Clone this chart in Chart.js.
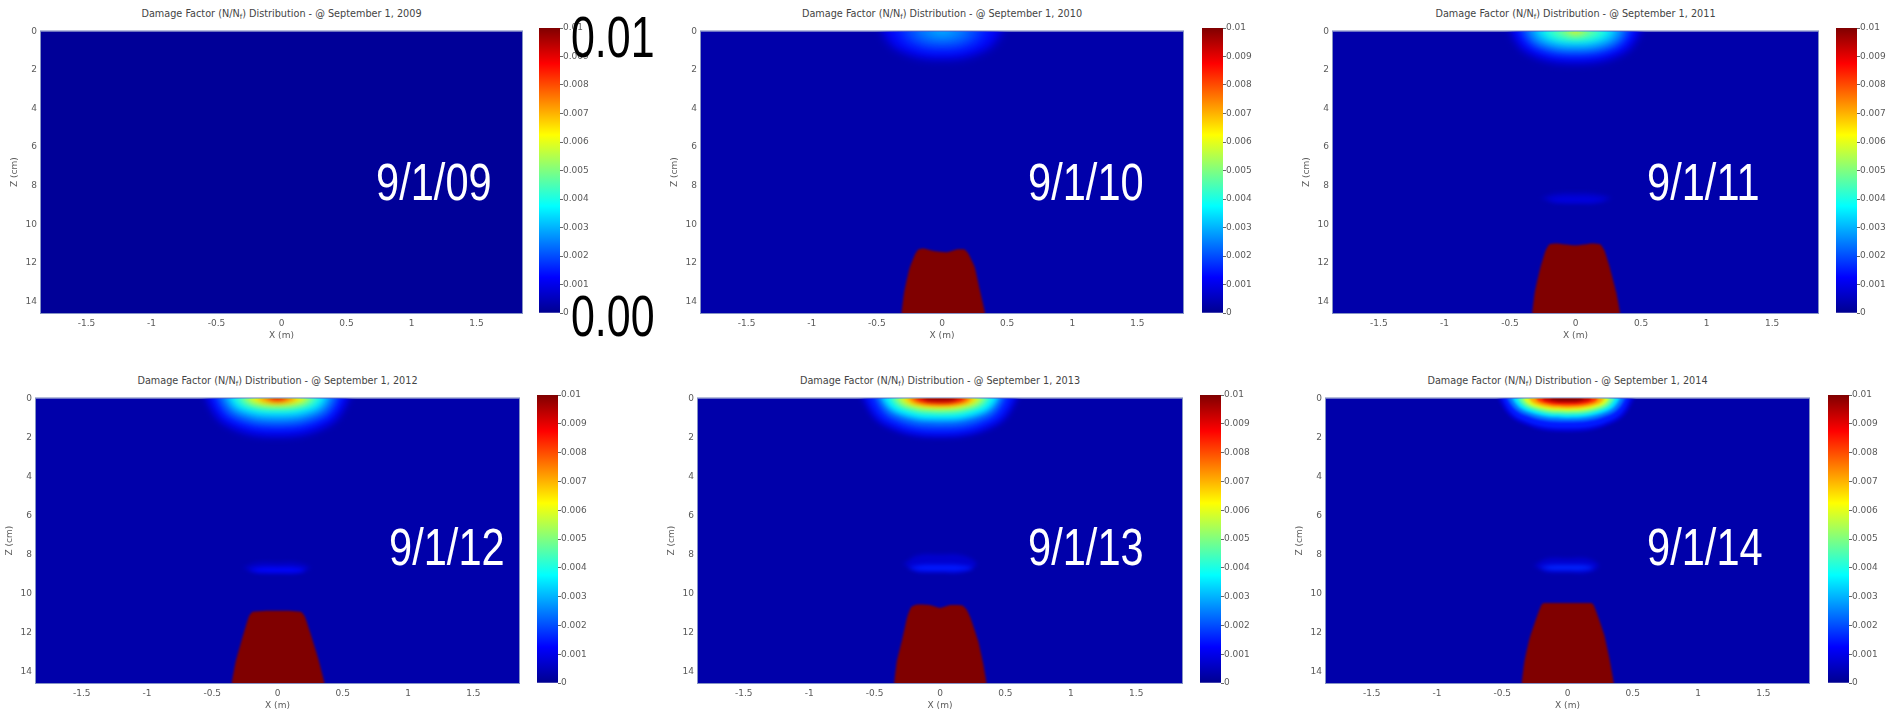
<!DOCTYPE html>
<html>
<head>
<meta charset="utf-8">
<script src="https://cdn.jsdelivr.net/npm/chart.js@4.4.1/dist/chart.umd.min.js"></script>
<style>
    html, body { margin: 0; padding: 0; background: #fff; }
    #stage { position: relative; width: 1892px; height: 713px; overflow: hidden; }
    #stage canvas { position: absolute; }
    .title { position: absolute; font: 9.7px "DejaVu Sans", sans-serif; color: #444; white-space: nowrap; transform: translate(-50%, -50%); }
    .title sub { font-size: 7px; line-height: 0; vertical-align: -2px; }
    .date { position: absolute; font-family: "Liberation Sans", Arial, sans-serif; font-size: 52px; line-height: 1; color: #fff; white-space: nowrap; transform-origin: 0 0; transform: scaleX(0.8); }
    .big { position: absolute; font-family: "Liberation Sans", Arial, sans-serif; font-size: 58px; line-height: 1; color: #000; white-space: nowrap; transform-origin: 0 0; transform: scaleX(0.74); }
</style>
</head>
<body>
<div id="stage"></div>
<script>
const years = ['2009', '2010', '2011', '2012', '2013', '2014'];
const dateLabels = ['9/1/09', '9/1/10', '9/1/11', '9/1/12', '9/1/13', '9/1/14'];

const xRange = [-1.85, 1.85];
const zRange = [0, 14.6];
const cbRange = [0, 0.01];
const xTickValues = [-1.5, -1, -0.5, 0, 0.5, 1, 1.5];
const xTickLabels = ['-1.5', '-1', '-0.5', '0', '0.5', '1', '1.5'];
const zTickValues = [0, 2, 4, 6, 8, 10, 12, 14];
const zTickLabels = ['0', '2', '4', '6', '8', '10', '12', '14'];
const cbTickValues = [0, 0.001, 0.002, 0.003, 0.004, 0.005, 0.006, 0.007, 0.008, 0.009, 0.01];
const cbTickLabels = ['0', '0.001', '0.002', '0.003', '0.004', '0.005', '0.006', '0.007', '0.008', '0.009', '0.01'];

// background damage level of each panel
const baseLevel = [0.0001, 0.0003, 0.0003, 0.0003, 0.0003, 0.0003];

// surface hot spot: outline (x m, z cm) of each damage level
const glow2010 = [
    { v: 0.0011, pts: [[-0.46, 0], [-0.33, 1.0], [0, 1.45], [0.33, 1.0], [0.46, 0]] },
    { v: 0.0015, pts: [[-0.38, 0], [-0.27, 0.8], [0, 1.15], [0.27, 0.8], [0.38, 0]] },
    { v: 0.002, pts: [[-0.29, 0], [-0.21, 0.59], [0, 0.85], [0.21, 0.59], [0.29, 0]] },
    { v: 0.0025, pts: [[-0.19, 0], [-0.14, 0.35], [0, 0.5], [0.14, 0.35], [0.19, 0]] },
    { v: 0.0029, pts: [[-0.08, 0], [-0.06, 0.12], [0, 0.18], [0.06, 0.12], [0.08, 0]] }
];
const glow2011 = [
    { v: 0.0008, pts: [[-0.5, 0], [-0.36, 1.2], [0, 1.7], [0.36, 1.2], [0.5, 0]] },
    { v: 0.0013, pts: [[-0.47, 0], [-0.34, 1.05], [0, 1.5], [0.34, 1.05], [0.47, 0]] },
    { v: 0.0019, pts: [[-0.42, 0], [-0.3, 0.87], [0, 1.25], [0.3, 0.87], [0.42, 0]] },
    { v: 0.0026, pts: [[-0.37, 0], [-0.27, 0.7], [0, 1.0], [0.27, 0.7], [0.37, 0]] },
    { v: 0.0033, pts: [[-0.31, 0], [-0.22, 0.52], [0, 0.75], [0.22, 0.52], [0.31, 0]] },
    { v: 0.004, pts: [[-0.25, 0], [-0.18, 0.36], [0, 0.52], [0.18, 0.36], [0.25, 0]] },
    { v: 0.0046, pts: [[-0.18, 0], [-0.13, 0.23], [0, 0.33], [0.13, 0.23], [0.18, 0]] },
    { v: 0.0053, pts: [[-0.1, 0], [-0.07, 0.11], [0, 0.16], [0.07, 0.11], [0.1, 0]] },
    { v: 0.0065, pts: [[-0.03, 0], [-0.02, 0.05], [0, 0.08], [0.02, 0.05], [0.03, 0]] }
];
const glow2012 = [
    { v: 0.0008, pts: [[-0.56, 0], [-0.4, 1.45], [0, 2.05], [0.4, 1.45], [0.56, 0]] },
    { v: 0.0014, pts: [[-0.52, 0], [-0.37, 1.26], [0, 1.8], [0.37, 1.26], [0.52, 0]] },
    { v: 0.002, pts: [[-0.47, 0], [-0.34, 1.05], [0, 1.5], [0.34, 1.05], [0.47, 0]] },
    { v: 0.0027, pts: [[-0.42, 0], [-0.3, 0.84], [0, 1.2], [0.3, 0.84], [0.42, 0]] },
    { v: 0.0035, pts: [[-0.37, 0], [-0.27, 0.63], [0, 0.9], [0.27, 0.63], [0.37, 0]] },
    { v: 0.0043, pts: [[-0.32, 0], [-0.23, 0.45], [0, 0.65], [0.23, 0.45], [0.32, 0]] },
    { v: 0.0053, pts: [[-0.26, 0], [-0.19, 0.31], [0, 0.45], [0.19, 0.31], [0.26, 0]] },
    { v: 0.0064, pts: [[-0.2, 0], [-0.14, 0.2], [0, 0.28], [0.14, 0.2], [0.2, 0]] },
    { v: 0.0076, pts: [[-0.13, 0], [-0.09, 0.11], [0, 0.16], [0.09, 0.11], [0.13, 0]] },
    { v: 0.009, pts: [[-0.06, 0], [-0.04, 0.05], [0, 0.07], [0.04, 0.05], [0.06, 0]] }
];
const glow2013 = [
    { v: 0.0008, pts: [[-0.6, 0], [-0.43, 1.45], [0, 2.05], [0.43, 1.45], [0.6, 0]] },
    { v: 0.0015, pts: [[-0.56, 0], [-0.4, 1.29], [0, 1.85], [0.4, 1.29], [0.56, 0]] },
    { v: 0.0021, pts: [[-0.5, 0], [-0.36, 1.08], [0, 1.55], [0.36, 1.08], [0.5, 0]] },
    { v: 0.0028, pts: [[-0.46, 0], [-0.33, 0.87], [0, 1.25], [0.33, 0.87], [0.46, 0]] },
    { v: 0.0036, pts: [[-0.43, 0], [-0.31, 0.73], [0, 1.05], [0.31, 0.73], [0.43, 0]] },
    { v: 0.0045, pts: [[-0.38, 0], [-0.27, 0.57], [0, 0.82], [0.27, 0.57], [0.38, 0]] },
    { v: 0.0055, pts: [[-0.33, 0], [-0.24, 0.43], [0, 0.62], [0.24, 0.43], [0.33, 0]] },
    { v: 0.0066, pts: [[-0.28, 0], [-0.2, 0.31], [0, 0.45], [0.2, 0.31], [0.28, 0]] },
    { v: 0.0078, pts: [[-0.23, 0], [-0.17, 0.22], [0, 0.32], [0.17, 0.22], [0.23, 0]] },
    { v: 0.009, pts: [[-0.18, 0], [-0.13, 0.15], [0, 0.22], [0.13, 0.15], [0.18, 0]] },
    { v: 0.0099, pts: [[-0.12, 0], [-0.09, 0.08], [0, 0.12], [0.09, 0.08], [0.12, 0]] }
];
const glow2014 = [
    { v: 0.0008, pts: [[-0.53, 0], [-0.38, 1.2], [0, 1.72], [0.37, 1.2], [0.51, 0]] },
    { v: 0.0015, pts: [[-0.5, 0], [-0.36, 1.08], [0, 1.55], [0.35, 1.08], [0.48, 0]] },
    { v: 0.0024, pts: [[-0.46, 0], [-0.33, 0.84], [0, 1.2], [0.32, 0.84], [0.44, 0]] },
    { v: 0.0035, pts: [[-0.42, 0], [-0.3, 0.7], [0, 1.0], [0.29, 0.7], [0.4, 0]] },
    { v: 0.0047, pts: [[-0.38, 0], [-0.27, 0.57], [0, 0.82], [0.26, 0.57], [0.36, 0]] },
    { v: 0.0059, pts: [[-0.34, 0], [-0.24, 0.46], [0, 0.66], [0.23, 0.46], [0.32, 0]] },
    { v: 0.0071, pts: [[-0.29, 0], [-0.21, 0.35], [0, 0.5], [0.2, 0.35], [0.28, 0]] },
    { v: 0.0083, pts: [[-0.24, 0], [-0.17, 0.25], [0, 0.36], [0.17, 0.25], [0.23, 0]] },
    { v: 0.0093, pts: [[-0.19, 0], [-0.14, 0.17], [0, 0.24], [0.13, 0.17], [0.18, 0]] },
    { v: 0.01, pts: [[-0.13, 0], [-0.09, 0.09], [0, 0.13], [0.09, 0.09], [0.12, 0]] }
];

// thin band near z = 8.7 cm
const band2011 = [
    { v: 0.0006, pts: [[-0.27, 8.65], [-0.16, 8.4], [0, 8.35], [0.16, 8.4], [0.27, 8.65], [0.16, 8.92], [0, 8.95], [-0.16, 8.92]] },
    { v: 0.0009, pts: [[-0.22, 8.72], [-0.13, 8.6], [0, 8.58], [0.13, 8.6], [0.22, 8.72], [0.13, 8.84], [0, 8.86], [-0.13, 8.84]] }
];
const band2012 = [
    { v: 0.0006, pts: [[-0.27, 8.7], [-0.16, 8.42], [0, 8.4], [0.16, 8.42], [0.25, 8.7], [0.16, 8.98], [0, 9.0], [-0.16, 8.98]] },
    { v: 0.0013, pts: [[-0.23, 8.8], [-0.13, 8.68], [0, 8.67], [0.13, 8.68], [0.21, 8.8], [0.13, 8.92], [0, 8.93], [-0.13, 8.92]] }
];
const band2013 = [
    { v: 0.0007, pts: [[-0.28, 8.5], [-0.17, 8.05], [0, 8.0], [0.17, 8.05], [0.28, 8.5], [0.17, 8.93], [0, 8.95], [-0.17, 8.93]] },
    { v: 0.0015, pts: [[-0.25, 8.7], [-0.15, 8.56], [0, 8.54], [0.15, 8.56], [0.25, 8.7], [0.15, 8.84], [0, 8.86], [-0.15, 8.84]] }
];
const band2014 = [
    { v: 0.0007, pts: [[-0.26, 8.58], [-0.16, 8.22], [0, 8.2], [0.16, 8.22], [0.24, 8.58], [0.16, 8.93], [0, 8.95], [-0.16, 8.93]] },
    { v: 0.0016, pts: [[-0.22, 8.68], [-0.13, 8.56], [0, 8.55], [0.13, 8.56], [0.2, 8.68], [0.13, 8.8], [0, 8.82], [-0.13, 8.8]] }
];

// saturated zone at the bottom (>= 0.01)
const core2010 = [[-0.32, 15.5], [-0.31, 14.6], [-0.29, 13.5], [-0.25, 12.3], [-0.21, 11.6], [-0.18, 11.3], [-0.14, 11.25], [-0.05, 11.4], [0.04, 11.45], [0.12, 11.3], [0.17, 11.3], [0.2, 11.5], [0.25, 12.2], [0.29, 13.4], [0.33, 14.6], [0.34, 15.5]];
const core2011 = [[-0.34, 15.5], [-0.33, 14.6], [-0.31, 13.5], [-0.27, 12.3], [-0.23, 11.4], [-0.2, 11.05], [-0.15, 11.0], [0, 11.1], [0.13, 11.0], [0.19, 11.05], [0.22, 11.35], [0.26, 12.2], [0.31, 13.5], [0.34, 14.6], [0.35, 15.5]];
const core2012 = [[-0.36, 15.5], [-0.35, 14.6], [-0.32, 13.5], [-0.27, 12.3], [-0.22, 11.2], [-0.19, 10.95], [-0.1, 10.9], [0.1, 10.9], [0.18, 10.95], [0.21, 11.2], [0.25, 12.0], [0.31, 13.3], [0.36, 14.6], [0.37, 15.5]];
const core2013 = [[-0.36, 15.5], [-0.35, 14.6], [-0.33, 13.5], [-0.29, 12.4], [-0.25, 11.2], [-0.22, 10.7], [-0.18, 10.58], [-0.08, 10.6], [0, 10.75], [0.08, 10.6], [0.17, 10.62], [0.2, 10.8], [0.23, 11.2], [0.29, 12.4], [0.33, 13.6], [0.355, 14.6], [0.36, 15.5]];
const core2014 = [[-0.36, 15.5], [-0.35, 14.6], [-0.33, 13.5], [-0.29, 12.3], [-0.24, 11.3], [-0.2, 10.6], [-0.18, 10.5], [0, 10.5], [0.18, 10.5], [0.2, 10.6], [0.24, 11.3], [0.28, 12.1], [0.32, 13.3], [0.355, 14.6], [0.36, 15.5]];
const coreLevel = 0.01;

const panelGlows = [[], glow2010, glow2011, glow2012, glow2013, glow2014];
const panelBands = [[], [], band2011, band2012, band2013, band2014];
const panelCores = [null, core2010, core2011, core2012, core2013, core2014];

// layout (page pixels)
const boxes = [
    { l: 41, r: 522, t: 28, b: 313, cbL: 539, cbR: 560 },
    { l: 701, r: 1183, t: 28, b: 313, cbL: 1202, cbR: 1223 },
    { l: 1333, r: 1818, t: 28, b: 313, cbL: 1836, cbR: 1857 },
    { l: 36, r: 519, t: 395, b: 683, cbL: 537, cbR: 558 },
    { l: 698, r: 1182, t: 395, b: 683, cbL: 1200, cbR: 1221 },
    { l: 1326, r: 1809, t: 395, b: 683, cbL: 1828, cbR: 1849 }
];
const dateBoxes = [[376, 156], [1028, 156], [1647, 156], [389, 521], [1028, 521], [1647, 521]];
const glowBlur = [0, 5, 4, 3, 2.5, 1.5];

const jetStops = [[0, [0, 0, 143]], [0.125, [0, 0, 255]], [0.375, [0, 255, 255]], [0.625, [255, 255, 0]], [0.875, [255, 0, 0]], [1, [128, 0, 0]]];
const tickFont = { family: 'DejaVu Sans', size: 9 };
const tickColor = '#5a5a5a';

function jet(v) {
    let t = (v - cbRange[0]) / (cbRange[1] - cbRange[0]);
    t = Math.min(1, Math.max(0, t));
    for (let i = 1; i < jetStops.length; i++) {
        const [p1, c1] = jetStops[i];
        const [p0, c0] = jetStops[i - 1];
        if (t <= p1) {
            const f = (t - p0) / (p1 - p0);
            const c = c0.map((a, k) => Math.round(a + (c1[k] - a) * f));
            return `rgb(${c[0]}, ${c[1]}, ${c[2]})`;
        }
    }
    return 'rgb(128, 0, 0)';
}

function toXY(pts) {
    return pts.map(([x, z]) => ({ x: x, y: z }));
}

function shapeDataset(pts, v, tension, blur) {
    return {
        data: toXY(pts),
        showLine: true,
        fill: 'shape',
        backgroundColor: jet(v),
        borderWidth: 0,
        pointRadius: 0,
        tension: tension,
        order: -v,
        blur: blur
    };
}

function buildDatasets(i) {
    const sets = [];
    panelGlows[i].forEach(c => {
        const first = c.pts[0], last = c.pts[c.pts.length - 1];
        const pts = [[first[0], -1], ...c.pts, [last[0], -1]];
        sets.push(shapeDataset(pts, c.v, 0.4, glowBlur[i]));
    });
    panelBands[i].forEach(c => sets.push(shapeDataset(c.pts, c.v, 0.4, 2)));
    if (panelCores[i]) sets.push(shapeDataset(panelCores[i], coreLevel, 0.15, 1));
    return sets;
}

function drawSequence(chart) {
    return chart.getSortedVisibleDatasetMetas().slice().reverse();
}

function setBlur(chart, meta) {
    const b = meta ? chart.data.datasets[meta.index].blur : 0;
    chart.ctx.filter = b ? `blur(${b}px)` : 'none';
}

const fieldPlugin = {
    id: 'field',
    beforeDatasetsDraw(chart, args, opts) {
        const { ctx, chartArea: a } = chart;
        ctx.save();
        ctx.fillStyle = opts.base;
        ctx.fillRect(a.left, a.top, a.width, a.height);
        ctx.restore();
        setBlur(chart, drawSequence(chart)[0]);
    },
    afterDatasetDraw(chart, args) {
        const seq = drawSequence(chart);
        const k = seq.findIndex(m => m.index === args.index);
        setBlur(chart, seq[k + 1]);
    },
    afterDatasetsDraw(chart, args, opts) {
        const { ctx, chartArea: a } = chart;
        ctx.filter = 'none';
        ctx.save();
        ctx.strokeStyle = opts.frame;
        ctx.lineWidth = 1;
        ctx.strokeRect(a.left - 0.5, a.top - 0.5, a.width + 1, a.height + 1);
        ctx.restore();
    }
};

function makeCanvas(left, top, w, h) {
    const cv = document.createElement('canvas');
    cv.width = w;
    cv.height = h;
    cv.style.left = left + 'px';
    cv.style.top = top + 'px';
    cv.style.width = w + 'px';
    cv.style.height = h + 'px';
    document.getElementById('stage').appendChild(cv);
    return cv;
}

function createField(i) {
    const bx = boxes[i];
    const yW = 36, xH = 30, padT = 6, padR = 6;
    const cv = makeCanvas(bx.l - yW, bx.t - padT, bx.r - bx.l + yW + padR, bx.b - bx.t + padT + xH);
    new Chart(cv, {
        type: 'line',
        data: { datasets: buildDatasets(i) },
        options: {
            responsive: false,
            animation: false,
            events: [],
            layout: { padding: { top: padT, right: padR, left: 0, bottom: 0 } },
            elements: { line: { capBezierPoints: false } },
            plugins: {
                legend: { display: false },
                tooltip: { enabled: false },
                field: { base: jet(baseLevel[i]), frame: 'rgba(120, 135, 190, 0.9)' }
            },
            scales: {
                x: {
                    type: 'linear',
                    min: xRange[0],
                    max: xRange[1],
                    afterBuildTicks: s => { s.ticks = xTickValues.map(v => ({ value: v })); },
                    afterFit: s => { s.height = xH; },
                    grid: { display: false, drawTicks: false },
                    border: { display: false },
                    ticks: { padding: 5, autoSkip: false, maxRotation: 0, font: tickFont, color: tickColor, callback: (v, k) => xTickLabels[k] },
                    title: { display: true, text: 'X (m)', font: tickFont, color: tickColor, padding: { top: 0, bottom: 2 } }
                },
                y: {
                    type: 'linear',
                    reverse: true,
                    min: zRange[0],
                    max: zRange[1],
                    afterBuildTicks: s => { s.ticks = zTickValues.map(v => ({ value: v })); },
                    afterFit: s => { s.width = yW; },
                    grid: { display: false, drawTicks: false },
                    border: { display: false },
                    ticks: { padding: 4, autoSkip: false, font: tickFont, color: tickColor, callback: (v, k) => zTickLabels[k] },
                    title: { display: true, text: 'Z (cm)', font: tickFont, color: tickColor, padding: { top: 4, bottom: 0 } }
                }
            }
        },
        plugins: [fieldPlugin]
    });
}

function createColorbar(i) {
    const bx = boxes[i];
    const axisW = 40, pad = 6;
    const cv = makeCanvas(bx.cbL, bx.t - pad, bx.cbR - bx.cbL + axisW, bx.b - bx.t + 2 * pad);
    new Chart(cv, {
        type: 'bar',
        data: {
            labels: [''],
            datasets: [{
                data: [cbRange],
                borderWidth: 0,
                barPercentage: 1,
                categoryPercentage: 1,
                backgroundColor: ctx => {
                    const area = ctx.chart.chartArea;
                    if (!area) return jet(0);
                    const g = ctx.chart.ctx.createLinearGradient(0, area.bottom, 0, area.top);
                    jetStops.forEach(([p, c]) => g.addColorStop(p, `rgb(${c[0]}, ${c[1]}, ${c[2]})`));
                    return g;
                }
            }]
        },
        options: {
            responsive: false,
            animation: false,
            events: [],
            layout: { padding: { top: pad, bottom: pad, left: 0, right: 0 } },
            plugins: { legend: { display: false }, tooltip: { enabled: false } },
            scales: {
                x: { display: false },
                y: {
                    position: 'right',
                    min: cbRange[0],
                    max: cbRange[1],
                    afterBuildTicks: s => { s.ticks = cbTickValues.map(v => ({ value: v })); },
                    afterFit: s => { s.width = axisW; },
                    grid: { drawOnChartArea: false, drawTicks: true, tickLength: 3, color: '#666' },
                    border: { display: false },
                    ticks: { padding: 0, autoSkip: false, font: tickFont, color: tickColor, callback: (v, k) => cbTickLabels[k] }
                }
            }
        }
    });
}

function addText(cls, html, left, top) {
    const d = document.createElement('div');
    d.className = cls;
    d.innerHTML = html;
    d.style.left = left + 'px';
    d.style.top = top + 'px';
    document.getElementById('stage').appendChild(d);
}

years.forEach((year, i) => {
    const bx = boxes[i];
    createField(i);
    createColorbar(i);
    addText('title', `Damage Factor (N/N<sub>f</sub>) Distribution - @ September 1, ${year}`, (bx.l + bx.r) / 2, bx.t - 15);
    addText('date', dateLabels[i], dateBoxes[i][0], dateBoxes[i][1]);
});

addText('big', '0.01', 571, 8);
addText('big', '0.00', 571, 287);
</script>
</body>
</html>
